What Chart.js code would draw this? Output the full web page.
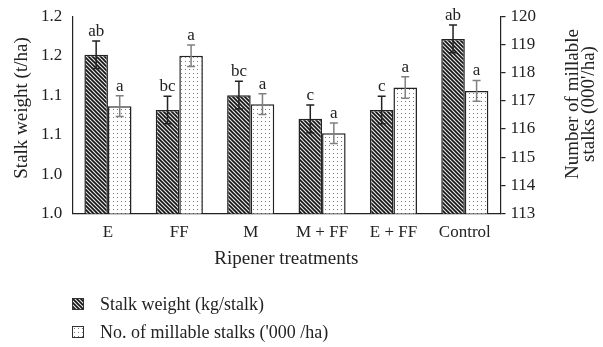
<!DOCTYPE html>
<html>
<head>
<meta charset="utf-8">
<script src="https://cdn.jsdelivr.net/npm/chart.js@4"></script>
<style>
body { margin: 0; background: #fff; }
#wrap { position: relative; width: 603px; height: 347px; overflow: hidden; }
#chart { position: absolute; left: 0; top: -4px; }
#legend { position: absolute; left: 72px; top: 290px; font: 18px "Liberation Serif"; color: #222; }
.row { display: flex; align-items: center; height: 28px; }
.row canvas { margin-right: 16px; border: 1px solid #333; }
</style>
</head>
<body>
<div id="wrap">
  <canvas id="chart" width="603" height="351"></canvas>
  <div id="legend"></div>
</div>
<script>
// Data
const treatments = ["E", "FF", "M", "M + FF", "E + FF", "Control"];
const stalkWeight = [1.161, 1.105, 1.120, 1.096, 1.105, 1.177];
const stalkWeightErr = [0.014, 0.014, 0.014, 0.014, 0.014, 0.014];
const stalkWeightLetters = ["ab", "bc", "bc", "c", "c", "ab"];
const millableStalks = [116.81, 118.60, 116.88, 115.85, 117.47, 117.35];
const millableErr = [0.37, 0.38, 0.37, 0.36, 0.38, 0.37];
const millableLetters = ["a", "a", "a", "a", "a", "a"];

const serif = '"Liberation Serif", "Times New Roman", serif';
const ink = "#222";

// Fill patterns
function hatchCanvas() {
    const c = document.createElement("canvas");
    c.width = 4; c.height = 4;
    const g = c.getContext("2d");
    g.fillStyle = "#e6e6e6";
    g.fillRect(0, 0, 4, 4);
    g.strokeStyle = "#141414";
    g.lineWidth = 1.6;
    g.beginPath();
    g.moveTo(-1, -1); g.lineTo(5, 5);
    g.moveTo(-1, 3); g.lineTo(1, 5);
    g.moveTo(3, -1); g.lineTo(5, 1);
    g.stroke();
    return c;
}
function dotCanvas() {
    const c = document.createElement("canvas");
    c.width = 4; c.height = 4;
    const g = c.getContext("2d");
    g.fillStyle = "#fff";
    g.fillRect(0, 0, 4, 4);
    g.fillStyle = "#7a7a7a";
    g.fillRect(1, 1, 1, 1);
    return c;
}

const ctx = document.getElementById("chart").getContext("2d");
const hatch = ctx.createPattern(hatchCanvas(), "repeat");
const dots = ctx.createPattern(dotCanvas(), "repeat");

// Error bars and significance letters
const errorBars = {
    id: "errorBars",
    afterDatasetsDraw(chart) {
        const c = chart.ctx;
        const errs = [stalkWeightErr, millableErr];
        const letters = [stalkWeightLetters, millableLetters];
        const colors = [ink, "#808080"];
        chart.data.datasets.forEach((ds, i) => {
            const meta = chart.getDatasetMeta(i);
            const sc = chart.scales[ds.yAxisID];
            meta.data.forEach((bar, j) => {
                const v = ds.data[j], e = errs[i][j];
                const top = sc.getPixelForValue(v + e);
                const bot = sc.getPixelForValue(v - e);
                c.save();
                c.strokeStyle = colors[i];
                c.lineWidth = 1.5;
                c.beginPath();
                c.moveTo(bar.x, top); c.lineTo(bar.x, bot);
                c.moveTo(bar.x - 4, top); c.lineTo(bar.x + 4, top);
                c.moveTo(bar.x - 4, bot); c.lineTo(bar.x + 4, bot);
                c.stroke();
                c.fillStyle = ink;
                c.font = "17px " + serif;
                c.textAlign = "center";
                c.textBaseline = "alphabetic";
                c.fillText(letters[i][j], bar.x, top - 5);
                c.restore();
            });
        });
    }
};

// Side titles, both reading bottom to top (canvas sits 4px higher than the page)
const sideTitles = {
    id: "sideTitles",
    afterDraw(chart) {
        const c = chart.ctx;
        c.save();
        c.fillStyle = ink;
        c.font = "19px " + serif;
        c.textAlign = "center";
        c.textBaseline = "middle";
        c.translate(22, 112);
        c.rotate(-Math.PI / 2);
        c.fillText("Stalk weight (t/ha)", 0, 0);
        c.restore();

        c.save();
        c.fillStyle = ink;
        c.font = "19px " + serif;
        c.textAlign = "center";
        c.textBaseline = "middle";
        c.translate(573, 108);
        c.rotate(-Math.PI / 2);
        c.fillText("Number of millable", 0, 0);
        c.fillText("stalks (000'/ha)", 0, 16);
        c.restore();
    }
};

const chart = new Chart(ctx, {
    type: "bar",
    data: {
        labels: treatments,
        datasets: [{
            label: "Stalk weight (kg/stalk)",
            data: stalkWeight,
            yAxisID: "y",
            backgroundColor: hatch,
            borderColor: ink,
            borderWidth: 1.5,
            borderSkipped: false,
        }, {
            label: "No. of millable stalks ('000 /ha)",
            data: millableStalks,
            yAxisID: "y1",
            backgroundColor: dots,
            borderColor: ink,
            borderWidth: 1.5,
            borderSkipped: false,
        }]
    },
    options: {
        responsive: false,
        animation: false,
        events: [],
        categoryPercentage: 0.66,
        barPercentage: 1.0,
        layout: { padding: { left: 31, right: 62, top: -3, bottom: 78 } },
        plugins: { legend: { display: false }, tooltip: { enabled: false } },
        scales: {
            x: {
                grid: { display: false, drawTicks: false },
                border: { display: true, color: ink, width: 1.2 },
                ticks: { color: ink, font: { family: serif, size: 17 }, padding: 9 },
                title: { display: true, text: "Ripener treatments", color: ink,
                    font: { family: serif, size: 19, lineHeight: 1 }, padding: { top: -2, bottom: 0 } }
            },
            y: {
                position: "left",
                min: 1.0, max: 1.2,
                grid: { display: false, drawTicks: false },
                border: { display: true, color: ink, width: 1.2 },
                ticks: { stepSize: 0.04, color: ink, padding: 10,
                    font: { family: serif, size: 17 },
                    callback: v => v.toFixed(1) }
            },
            y1: {
                position: "right",
                min: 113, max: 120,
                grid: { display: true, drawOnChartArea: false, drawTicks: true, tickLength: 5, color: ink, lineWidth: 1.2 },
                border: { display: true, color: ink, width: 1.2 },
                ticks: { stepSize: 1, color: ink, padding: 5,
                    font: { family: serif, size: 17 } }
            }
        }
    },
    plugins: [errorBars, sideTitles]
});

// Legend below the chart
const legend = document.getElementById("legend");
[[hatchCanvas, "Stalk weight (kg/stalk)"], [dotCanvas, "No. of millable stalks ('000 /ha)"]].forEach(([make, text]) => {
    const row = document.createElement("div");
    row.className = "row";
    const sw = document.createElement("canvas");
    sw.width = 10; sw.height = 10;
    const g = sw.getContext("2d");
    g.fillStyle = g.createPattern(make(), "repeat");
    g.fillRect(0, 0, 10, 10);
    row.appendChild(sw);
    const span = document.createElement("span");
    span.textContent = text;
    row.appendChild(span);
    legend.appendChild(row);
});
</script>
</body>
</html>
